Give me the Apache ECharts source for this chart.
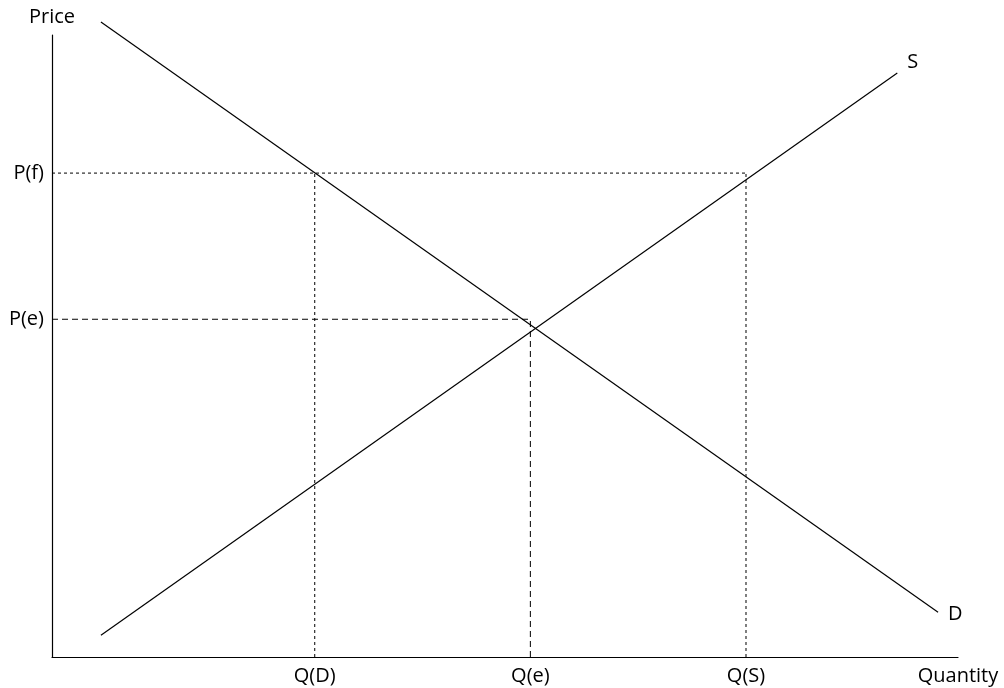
<!DOCTYPE html>
<html>
<head>
<meta charset="utf-8">
<script src="https://cdn.jsdelivr.net/npm/echarts@6/dist/echarts.min.js"></script>
<style>
html,body{margin:0;padding:0;background:#fff;}
#chart{width:1004px;height:688px;}
</style>
</head>
<body>
<div id="chart"></div>
<script>
// Curves (quantity, price) endpoints
const demandQ = [5.4, 97.8];
const demandP = [102.1, 7.2];
const supplyQ = [5.4, 93.3];
const supplyP = [3.5, 93.9];
// Guide levels
const qLevels = {QD: 29.0, Qe: 52.8, QS: 76.6};
const pLevels = {Pf: 77.8, Pe: 54.3};
// Tick labels
const xTickValues = [29.0, 52.8, 76.6, 100];
const xTickLabels = ['Q(D)', 'Q(e)', 'Q(S)', 'Quantity'];
const yTickValues = [54.3, 77.8];
const yTickLabels = ['P(e)', 'P(f)'];

const FONT = '"Open Sans", "Noto Sans", sans-serif';
const pts = (xs, ys) => xs.map((x, i) => [x, ys[i]]);

const chart = echarts.init(document.getElementById('chart'));
const guide = (data, type) => ({
  type: 'line', data, symbol: 'none', silent: true, clip: false,
  lineStyle: {color: '#000', width: 1, type}
});
chart.setOption({
  animation: false,
  backgroundColor: '#fff',
  grid: {left: 52, right: 46, top: 35, bottom: 31},
  xAxis: {
    type: 'value', min: 0, max: 100,
    axisLine: {lineStyle: {color: '#000', width: 1.2}},
    axisTick: {show: false},
    splitLine: {show: false},
    axisLabel: {
      customValues: xTickValues,
      formatter: v => xTickLabels[xTickValues.indexOf(v)] || '',
      color: '#000', fontSize: 20, fontFamily: FONT, margin: 9
    }
  },
  yAxis: {
    type: 'value', min: 0, max: 100,
    name: 'Price', nameLocation: 'end', nameGap: 8,
    nameTextStyle: {color: '#000', fontSize: 20, fontFamily: FONT, align: 'center'},
    axisLine: {show: true, lineStyle: {color: '#000', width: 1.2}},
    axisTick: {show: false},
    splitLine: {show: false},
    axisLabel: {
      customValues: yTickValues,
      formatter: v => yTickLabels[yTickValues.indexOf(v)] || '',
      color: '#000', fontSize: 20, fontFamily: FONT, margin: 8
    }
  },
  series: [
    guide([[0, pLevels.Pf], [qLevels.QS, pLevels.Pf]], [3, 3]),
    guide([[0, pLevels.Pe], [qLevels.Qe, pLevels.Pe]], [6, 4]),
    guide([[qLevels.QD, 0], [qLevels.QD, pLevels.Pf]], [3, 3]),
    guide([[qLevels.Qe, 0], [qLevels.Qe, pLevels.Pe]], [6, 4]),
    guide([[qLevels.QS, 0], [qLevels.QS, pLevels.Pf]], [3, 3]),
    {
      type: 'line', data: pts(demandQ, demandP), symbol: 'none', clip: false,
      lineStyle: {color: '#000', width: 1.2},
      endLabel: {show: true, formatter: 'D', color: '#000', fontSize: 20, fontFamily: FONT, offset: [2, 2]}
    },
    {
      type: 'line', data: pts(supplyQ, supplyP), symbol: 'none', clip: false,
      lineStyle: {color: '#000', width: 1.2},
      endLabel: {show: true, formatter: 'S', color: '#000', fontSize: 20, fontFamily: FONT, offset: [2, -11]}
    }
  ]
});
</script>
</body>
</html>
